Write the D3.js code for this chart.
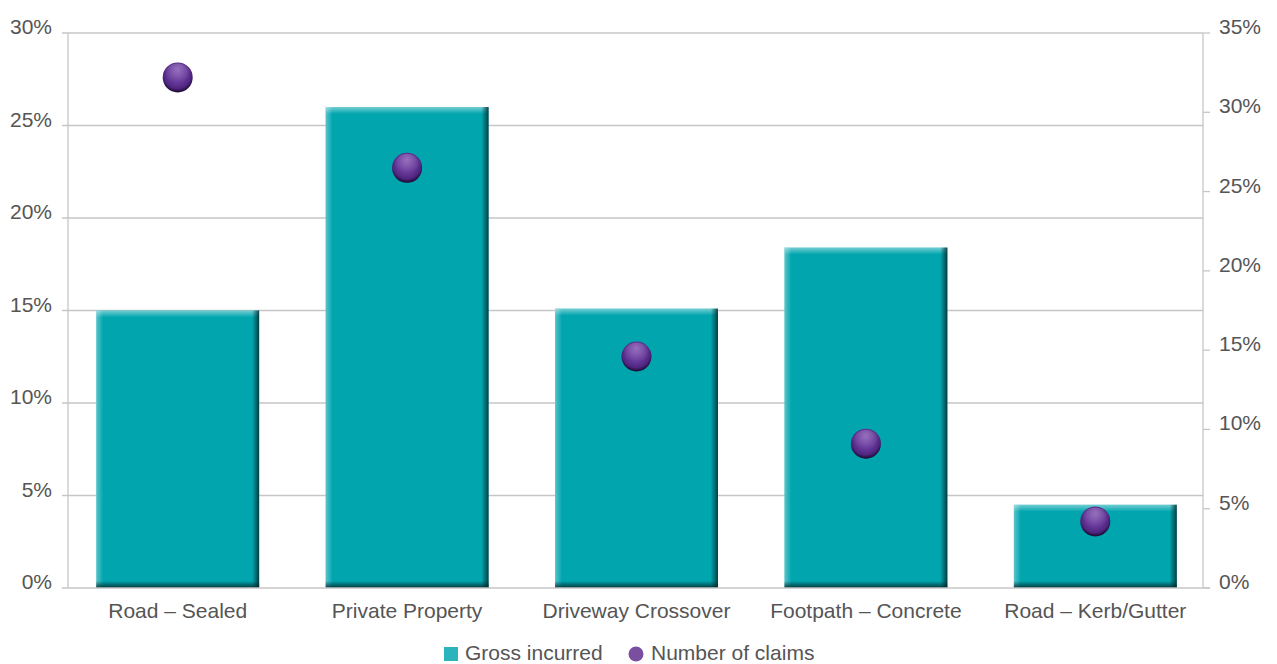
<!DOCTYPE html>
<html><head><meta charset="utf-8">
<script src="https://cdn.jsdelivr.net/npm/d3@7"></script>
<style>body{margin:0;background:#fff}svg{display:block;font-family:"Liberation Sans",Arial,sans-serif}</style>
</head><body><svg id="c" width="1277" height="664"></svg>
<script>
const categories = ["Road – Sealed","Private Property","Driveway Crossover","Footpath – Concrete","Road – Kerb/Gutter"];
const grossIncurred = [15.0, 26.0, 15.1, 18.4, 4.5];
const numberOfClaims = [32.2, 26.5, 14.6, 9.1, 4.2];
const leftTicks = [0,5,10,15,20,25,30];
const rightTicks = [0,5,10,15,20,25,30,35];
const legendLabels = ["Gross incurred","Number of claims"];

const svg = d3.select("#c");
const L = 68, R = 1203, T = 33, B = 588;
const x = d3.scaleBand().domain(categories).range([63,1210]).paddingInner(0.29).paddingOuter(0.145);
const yL = d3.scaleLinear().domain([0,30]).range([B,T]);
const yR = d3.scaleLinear().domain([0,35]).range([B,T]);
const grid = "#c6c6c6", txt = "#555", fs = 21;

const defs = svg.append("defs");
function lg(id, x1,y1,x2,y2, stops){
  const g = defs.append("linearGradient").attr("id",id).attr("x1",x1).attr("y1",y1).attr("x2",x2).attr("y2",y2);
  stops.forEach(s=>g.append("stop").attr("offset",s[0]).attr("stop-color",s[1]).attr("stop-opacity",s[2]));
}
lg("gl",0,0,1,0,[[0,"#ffffff",0.35],[1,"#ffffff",0]]);
lg("gt",0,0,0,1,[[0,"#ffffff",0.45],[1,"#ffffff",0]]);
lg("gr",0,0,1,0,[[0,"#002a2d",0],[1,"#002a2d",0.85]]);
lg("gb",0,0,0,1,[[0,"#002a2d",0],[1,"#002a2d",0.9]]);
const rg = defs.append("radialGradient").attr("id","dot").attr("cx","50%").attr("cy","42%").attr("r","58%").attr("fx","45%").attr("fy","35%");
[[0,"#6f42a3"],[0.55,"#633596"],[0.8,"#4f2680"],[0.93,"#2c1149"],[1,"#180726"]].forEach(s=>rg.append("stop").attr("offset",s[0]).attr("stop-color",s[1]));
const rh = defs.append("radialGradient").attr("id","hl").attr("cx","50%").attr("cy","20%").attr("r","50%");
rh.append("stop").attr("offset",0).attr("stop-color","#b99ad6").attr("stop-opacity",0.55);
rh.append("stop").attr("offset",1).attr("stop-color","#b99ad6").attr("stop-opacity",0);

// gridlines
svg.append("g").selectAll("line").data(leftTicks.slice(1)).join("line")
  .attr("x1",L-6).attr("x2",R).attr("y1",d=>yL(d)).attr("y2",d=>yL(d))
  .attr("stroke",grid).attr("stroke-width",1.3);
// left axis
svg.append("line").attr("x1",L).attr("x2",L).attr("y1",T).attr("y2",B).attr("stroke",grid).attr("stroke-width",1.3);
svg.append("g").selectAll("text").data(leftTicks).join("text")
  .attr("x",52).attr("y",d=>yL(d)+1).attr("text-anchor","end")
  .attr("fill",txt).attr("font-size",fs).text(d=>d+"%");
// right axis
svg.append("line").attr("x1",R).attr("x2",R).attr("y1",T).attr("y2",B).attr("stroke",grid).attr("stroke-width",1.3);
svg.append("g").selectAll("line").data(rightTicks).join("line")
  .attr("x1",R).attr("x2",R+7).attr("y1",d=>yR(d)).attr("y2",d=>yR(d)).attr("stroke",grid).attr("stroke-width",1.3);
svg.append("g").selectAll("text").data(rightTicks).join("text")
  .attr("x",1219).attr("y",d=>yR(d)+1).attr("text-anchor","start")
  .attr("fill",txt).attr("font-size",fs).text(d=>d+"%");

// bars
const bw = x.bandwidth(), e = 7;
const bars = svg.append("g").selectAll("g").data(categories).join("g");
bars.append("rect").attr("x",d=>x(d)).attr("y",(d,i)=>yL(grossIncurred[i])).attr("width",bw)
  .attr("height",(d,i)=>B-yL(grossIncurred[i])).attr("fill","#00a5ae");
bars.append("rect").attr("x",d=>x(d)).attr("y",(d,i)=>yL(grossIncurred[i])).attr("width",e)
  .attr("height",(d,i)=>B-yL(grossIncurred[i])).attr("fill","url(#gl)");
bars.append("rect").attr("x",d=>x(d)).attr("y",(d,i)=>yL(grossIncurred[i])).attr("width",bw)
  .attr("height",e).attr("fill","url(#gt)");
bars.append("rect").attr("x",d=>x(d)+bw-e).attr("y",(d,i)=>yL(grossIncurred[i])).attr("width",e)
  .attr("height",(d,i)=>B-yL(grossIncurred[i])).attr("fill","url(#gr)");
bars.append("rect").attr("x",d=>x(d)).attr("y",B-e).attr("width",bw)
  .attr("height",e).attr("fill","url(#gb)");

// x axis line
svg.append("line").attr("x1",L-6).attr("x2",R+7).attr("y1",B).attr("y2",B).attr("stroke",grid).attr("stroke-width",1.3);
svg.append("g").selectAll("text").data(categories).join("text")
  .attr("x",d=>x(d)+bw/2).attr("y",618).attr("text-anchor","middle")
  .attr("fill",txt).attr("font-size",fs).text(d=>d);

// dots
const dots = svg.append("g").selectAll("g").data(categories).join("g")
  .attr("transform",(d,i)=>`translate(${x(d)+bw/2},${yR(numberOfClaims[i])})`);
dots.append("circle").attr("r",15).attr("fill","url(#dot)");
dots.append("circle").attr("r",14).attr("fill","url(#hl)");

// legend
const lgd = svg.append("g");
lgd.append("rect").attr("x",444).attr("y",647).attr("width",14).attr("height",14).attr("fill","#2cb4bc");
lgd.append("text").attr("x",465).attr("y",660).attr("fill",txt).attr("font-size",fs).text(legendLabels[0]);
lgd.append("circle").attr("cx",636).attr("cy",654).attr("r",7.5).attr("fill","#7a4fa0");
lgd.append("text").attr("x",651).attr("y",660).attr("fill",txt).attr("font-size",fs).text(legendLabels[1]);
</script></body></html>
